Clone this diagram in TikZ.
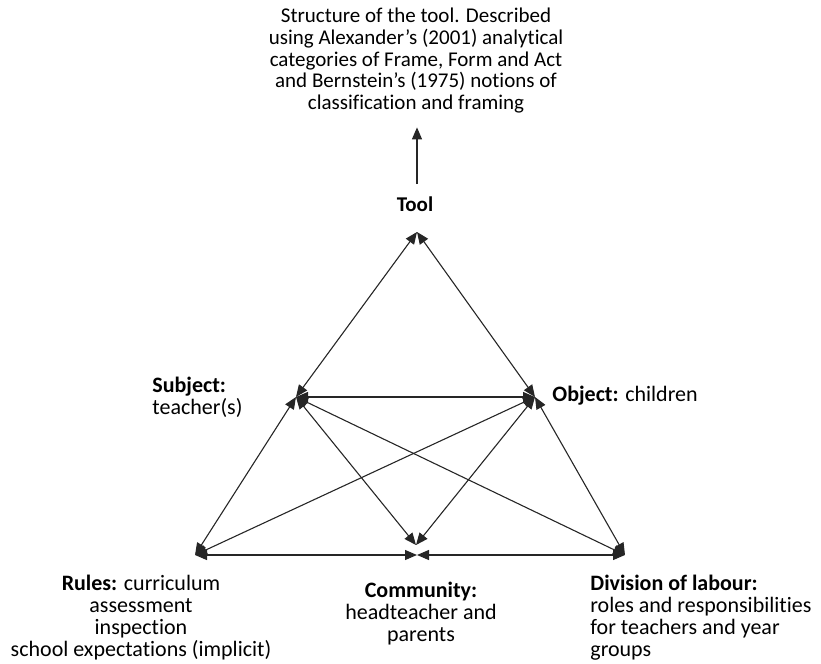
\documentclass[tikz,border=0pt]{standalone}
\usepackage{fontspec}
\setmainfont{Carlito}[Ligatures=NoCommon]
\usetikzlibrary{arrows.meta}

\begin{document}
\begin{tikzpicture}[
		x=0.5pt, y=-0.5pt,
		lbl/.style={
			inner sep=0pt,
			font=\fontsize{11}{10.9}\selectfont
		},
		arrow/.style={
			{Triangle[length=6pt,width=5pt]}-{Triangle[length=6pt,width=5pt]},
			line width=0.55pt,
			black!85
		},
		uparrow/.style={
			-{Triangle[length=6pt,width=5pt]},
			line width=0.55pt,
			black!85
		}
		]
		\useasboundingbox (0,0) rectangle (821,664);
		
		% Corners of the triangle
		\coordinate (vtool) at (417,232);
		\coordinate (vsubject) at (296,397);
		\coordinate (vobject) at (535,397);
		\coordinate (vrules) at (195,555);
		\coordinate (vcommunity) at (417,555);
		\coordinate (vcommtop) at (416,545);
		\coordinate (vdivision) at (625,555);
		
		% Labels
		\node[lbl, font=\fontsize{10.5}{10.8}\selectfont, align=center, anchor=north] (structure) at (416,8) {Structure of the tool. Described\\using Alexander’s (2001) analytical\\categories of Frame, Form and Act\\and Bernstein’s (1975) notions of\\classification and framing};
		\node[lbl, font=\fontsize{10.5}{10.8}\selectfont\bfseries] (tool) at (415,204) {Tool};
		\node[lbl, align=left, anchor=north west] (subject) at (152,377) {\textbf{Subject:}\\teacher(s)};
		\node[lbl, anchor=west] (object) at (552,396) {\textbf{Object:} children};
		\node[lbl, align=center, anchor=north] (rules) at (141,575) {\textbf{Rules:} curriculum\\assessment\\inspection\\school expectations (implicit)};
		\node[lbl, align=center, anchor=north] (community) at (421,582) {\textbf{Community:}\\headteacher and\\parents};
		\node[lbl, align=left, anchor=north west] (division) at (590,575) {\textbf{Division of labour:}\\roles and responsibilities\\for teachers and year\\groups};
		
		% Tool to its description
		\draw[uparrow, shorten <=6pt, shorten >=7pt] (tool.north -| vtool) -- (structure.south -| vtool);
		
		% Sides of the triangle
		\draw[arrow] (vtool) -- (vsubject);
		\draw[arrow] (vtool) -- (vobject);
		\draw[arrow] (vsubject) -- (vrules);
		\draw[arrow] (vobject) -- (vdivision);
		\draw[arrow] (vrules) -- (vcommunity);
		\draw[arrow] (vdivision) -- (vcommunity);
		
		% Inner links
		\draw[arrow] (vsubject) -- (vobject);
		\draw[arrow] (vsubject) -- (vcommtop);
		\draw[arrow] (vobject) -- (vcommtop);
		\draw[arrow] (vsubject) -- (vdivision);
		\draw[arrow] (vobject) -- (vrules);
		
	\end{tikzpicture}
\end{document}
